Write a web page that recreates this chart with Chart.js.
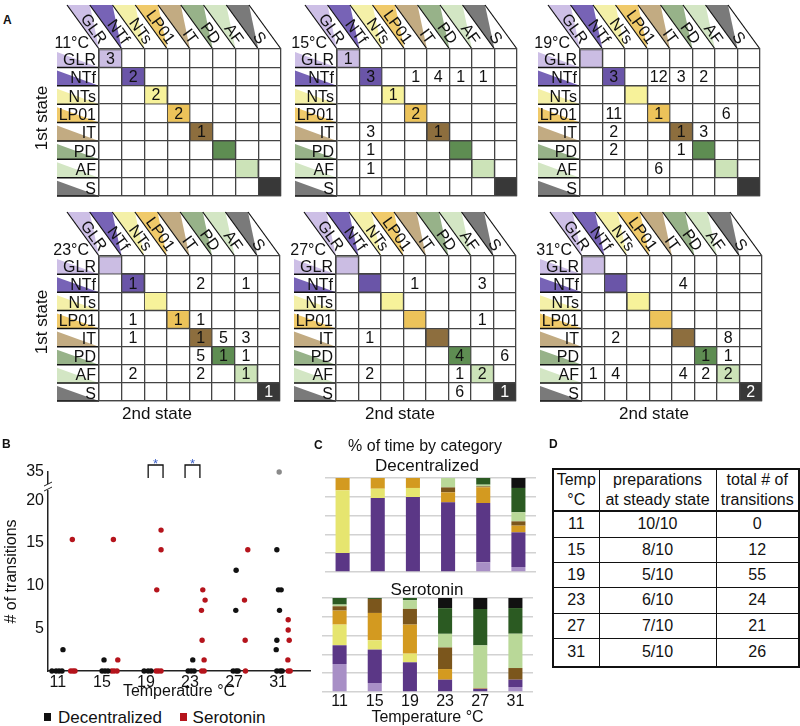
<!DOCTYPE html>
<html><head><meta charset="utf-8">
<script src="https://cdn.jsdelivr.net/npm/chart.js@4.4.1/dist/chart.umd.min.js"></script>
<style>
body{margin:0;width:800px;height:726px;overflow:hidden;background:#fff;font-family:"Liberation Sans",Arial,sans-serif;position:relative;color:#111}
canvas{position:absolute}
.t{position:absolute;white-space:nowrap;line-height:1;transform:translate(-50%,-50%)}
.pl{position:absolute;font-weight:bold;font-size:12px;line-height:1}
.sq{position:absolute;width:7px;height:8px}
table{position:absolute;border-collapse:collapse;font-size:16px;text-align:center;table-layout:fixed}
td{border:1.5px solid #111;padding:0;line-height:20px}
</style></head><body>
<script>
// ---------- DATA ----------
const states = ['GLR','NTf','NTs','LP01','IT','PD','AF','S'];
const temps = [11,15,19,23,27,31];
const tempLabels = ['11°C','15°C','19°C','23°C','27°C','31°C'];
// transition counts: [row (1st state), col (2nd state), count]
const cells11 = [[0,0,3],[1,1,2],[2,2,2],[3,3,2],[4,4,1]];
const cells15 = [[0,0,1],[1,1,3],[1,3,1],[1,4,4],[1,5,1],[1,6,1],[2,2,1],[3,3,2],[4,1,3],[4,4,1],[5,1,1],[6,1,1]];
const cells19 = [[1,1,3],[1,3,12],[1,4,3],[1,5,2],[3,1,11],[3,3,1],[3,6,6],[4,1,2],[4,4,1],[4,5,3],[5,1,2],[5,4,1],[6,3,6]];
const cells23 = [[1,1,1],[1,4,2],[1,6,1],[3,1,1],[3,3,1],[3,4,1],[4,1,1],[4,4,1],[4,5,5],[4,6,3],[5,4,5],[5,5,1],[5,6,1],[6,1,2],[6,4,2],[6,6,1],[7,7,1]];
const cells27 = [[1,3,1],[1,6,3],[3,6,1],[4,1,1],[5,5,4],[5,7,6],[6,1,2],[6,5,1],[6,6,2],[7,5,6],[7,7,1]];
const cells31 = [[1,4,4],[4,1,2],[4,6,8],[5,5,1],[5,6,1],[6,0,1],[6,1,4],[6,4,4],[6,5,2],[6,6,2],[7,7,2]];

// panel B: [temperature (jittered), # of transitions]
const decentralizedPts = [[10.46,0],[10.83,0],[11.1,0],[11.37,0],[11.46,2.5],
  [15.01,0],[15.28,0],[15.55,0],[15.19,1.3],
  [18.83,0],[19.19,0],[19.46,0],
  [22.83,0],[23.1,0],[23.37,0],[23.25,1.3],
  [26.92,0],[27.19,0],[27.37,0],[27.19,11.8],[27.16,7.1],
  [30.89,14.2],[31.04,9.5],[31.28,9.5],[31.13,7.1],[30.89,3.6],[30.83,2.5],[30.89,0],[31.19,0],[31.37,0]];
const serotoninPts = [[12.31,15.4],[12.16,0],[12.37,0],[12.55,0],
  [16.04,15.4],[16.44,1.3],[15.89,0],[16.1,0],[16.37,0],
  [20.37,16.5],[20.37,14.2],[19.98,9.5],[19.92,0],[20.13,0],[20.37,0],
  [24.16,9.5],[24.37,8.3],[24.04,7.1],[24.1,3.6],[24.28,1.3],[24.07,0],[24.28,0],
  [28.25,14.2],[27.95,8.3],[28.01,3.6],[28.04,0],
  [31.92,6.0],[31.92,4.8],[32.01,3.6],[31.89,1.3],[31.92,0],[32.1,0]];
const outlierPts = [[31.1,35]];
const yTickValues = [5,10,15,20,35];
const sigBrackets = [[19.2,20.55],[22.55,23.9]];

// panel C: % of time, stacked bottom->top GLR, NTf, NTs, LP01, IT, AF, PD, S
const decGLR  = [0,0,0,0,10.3,5.3];
const decNTf  = [20.2,78.7,79.8,74.1,63.1,36.9];
const decNTs  = [66.7,9.9,9.6,0,0,0];
const decLP01 = [13.1,11.4,10.6,10.6,16.7,7.1];
const decIT   = [0,0,0,5.3,1.0,4.6];
const decAF   = [0,0,0,10.0,1.8,9.6];
const decPD   = [0,0,0,0,7.1,25.9];
const decS    = [0,0,0,0,0,10.6];
const serGLR  = [29.8,9.6,0,0,0,5.3];
const serNTf  = [19.9,35.5,31.6,13.1,3.5,7.8];
const serNTs  = [22.0,9.9,9.2,0,0,0];
const serLP01 = [14.9,29.1,30.9,11.3,0.7,0];
const serIT   = [4.6,14.9,16.7,23.0,0,12.4];
const serAF   = [1.8,0,9.2,14.5,45.4,36.5];
const serPD   = [7.0,1.0,2.4,27.3,38.7,27.3];
const serS    = [0,0,0,10.8,11.7,10.7];
const stackNames = ['GLR','NTf','NTs','LP01','IT','AF','PD','S'];

// panel D table
const tableTemps = [11,15,19,23,27,31];
const tablePreps = ['10/10','8/10','5/10','6/10','7/10','5/10'];
const tableTransitions = [0,12,55,24,21,26];

// ---------- STYLE ----------
const FONT = '"Liberation Sans", Arial, sans-serif';
const cellColors  = ['#cbbde3','#6a55a8','#f7f29a','#ecc35a','#8d6e3e','#5e8d52','#cce3b8','#383838'];
const wedgeColors = ['#cdbfe6','#7763b6','#f4f0a8','#f0ca6a','#c2ab82','#97b289','#d3e6c4','#7a7a7a'];
const stackColors = ['#a88fc6','#5b3786','#e6e56f','#d39a20','#7b561c','#b9d898','#2b5a22','#111111'];

Chart.defaults.font.family = FONT;
Chart.defaults.color = '#111';
Chart.defaults.animation = false;
Chart.defaults.responsive = false;
Chart.defaults.events = [];
Chart.defaults.plugins.legend.display = false;
Chart.defaults.plugins.tooltip.enabled = false;

function makeCanvas(left, top, w, h) {
  const c = document.createElement('canvas');
  c.width = w; c.height = h;
  c.style.left = left + 'px'; c.style.top = top + 'px';
  c.style.width = w + 'px'; c.style.height = h + 'px';
  document.body.appendChild(c);
  return c;
}
function addText(txt, cx, cy, size, extra) {
  const d = document.createElement('div');
  d.className = 't'; d.textContent = txt;
  d.style.left = cx + 'px'; d.style.top = cy + 'px'; d.style.fontSize = size + 'px';
  if (extra) Object.assign(d.style, extra);
  document.body.appendChild(d);
  return d;
}
function addPanelLabel(txt, l, t) {
  const d = document.createElement('div');
  d.className = 'pl'; d.textContent = txt; d.style.left = l + 'px'; d.style.top = t + 'px';
  document.body.appendChild(d);
}

// ---------- PANEL A ----------
const HDX = 32, HDY = 44;
const LBL = '16px ' + FONT;
const matrixDecor = {
  id: 'matrixDecor',
  beforeDraw(chart, args, opts) {
    const {ctx, chartArea: a, scales: {x, y}} = chart;
    const cw = x.getPixelForValue(1) - x.getPixelForValue(0);
    ctx.save();
    // row labels
    for (let r = 0; r < states.length; r++) {
      const yt = y.getPixelForValue(r), yb = y.getPixelForValue(r + 1);
      const x0 = a.left - 42;
      ctx.fillStyle = wedgeColors[r];
      ctx.beginPath(); ctx.moveTo(x0, yt + 3); ctx.lineTo(x0, yb); ctx.lineTo(a.left, yb); ctx.closePath(); ctx.fill();
      ctx.strokeStyle = '#111'; ctx.lineWidth = 1.5;
      ctx.beginPath(); ctx.moveTo(x0, yb); ctx.lineTo(a.left, yb); ctx.stroke();
      ctx.fillStyle = '#111'; ctx.font = LBL; ctx.textAlign = 'right'; ctx.textBaseline = 'alphabetic';
      ctx.fillText(states[r], a.left - 3, yb - 2.5);
    }
    // column headers
    const len = Math.hypot(HDX, HDY), ux = HDX / len, uy = HDY / len, ang = Math.atan2(HDY, HDX);
    for (let c = 0; c < states.length; c++) {
      const xc = x.getPixelForValue(c) - cw / 2;
      ctx.fillStyle = wedgeColors[c];
      ctx.beginPath(); ctx.moveTo(xc - HDX, a.top - HDY); ctx.lineTo(xc + cw - HDX, a.top - HDY); ctx.lineTo(xc, a.top); ctx.closePath(); ctx.fill();
    }
    ctx.strokeStyle = '#111'; ctx.lineWidth = 1.2;
    for (let c = 0; c <= states.length; c++) {
      const xc = x.getPixelForValue(c) - cw / 2;
      ctx.beginPath(); ctx.moveTo(xc, a.top); ctx.lineTo(xc - HDX, a.top - HDY); ctx.stroke();
    }
    for (let c = 0; c < states.length; c++) {
      const xc = x.getPixelForValue(c) - cw / 2;
      const px = xc - ux * 3 + uy * 2.5, py = a.top - uy * 3 - ux * 2.5;
      ctx.save();
      ctx.translate(px, py); ctx.rotate(ang);
      ctx.fillStyle = '#111'; ctx.font = LBL; ctx.textAlign = 'right'; ctx.textBaseline = 'alphabetic';
      ctx.fillText(states[c], 0, 0);
      ctx.restore();
    }
    // temperature label
    ctx.fillStyle = '#111'; ctx.font = LBL; ctx.textAlign = 'right'; ctx.textBaseline = 'alphabetic';
    ctx.fillText(opts.temp, a.left - 10, a.top - 1);
    ctx.restore();
  },
  afterDatasetsDraw(chart, args, opts) {
    const {ctx, scales: {x, y}} = chart;
    ctx.save();
    ctx.font = LBL; ctx.textAlign = 'center'; ctx.textBaseline = 'middle';
    for (const [r, c, v] of opts.cells) {
      ctx.fillStyle = (r === 7 && c === 7) ? '#fff' : '#111';
      ctx.fillText(String(v), x.getPixelForValue(c), y.getPixelForValue(r + 0.5) + 1);
    }
    ctx.restore();
  }
};

const PADL = 62, PADT = 49, PADR = 6, PADB = 4;
function matrixChart(rect, temp, cells) {
  const [gl, gt, gr, gb] = rect;
  const cv = makeCanvas(gl - PADL, gt - PADT, gr - gl + PADL + PADR, gb - gt + PADT + PADB);
  const gridOpt = { color: '#444', lineWidth: 1.3, drawTicks: false };
  new Chart(cv, {
    type: 'bar',
    data: { labels: states, datasets: [{
      data: states.map((s, i) => [i, i + 1]),
      backgroundColor: cellColors, borderColor: '#444', borderWidth: 1, borderSkipped: false,
      barPercentage: 1, categoryPercentage: 1 }] },
    options: {
      layout: { padding: { left: PADL, top: PADT, right: PADR, bottom: PADB } },
      scales: {
        x: { grid: Object.assign({ offset: true }, gridOpt), border: { color: '#444', width: 1.3 }, ticks: { display: false }, afterFit: s => { s.height = 0; } },
        y: { min: 0, max: states.length, reverse: true, grid: gridOpt, border: { color: '#444', width: 1.3 }, ticks: { display: false, stepSize: 1 }, afterFit: s => { s.width = 0; } }
      },
      plugins: { matrixDecor: { temp, cells } }
    },
    plugins: [matrixDecor]
  });
}
const matrixRects = [[99,49,281,196],[337,49,517,196],[580,49,760,196],[99,256,280,401],[336,256,516,401],[582,256,762,401]];
const allCells = [cells11, cells15, cells19, cells23, cells27, cells31];
matrixRects.forEach((r, i) => matrixChart(r, tempLabels[i], allCells[i]));

addText('1st state', 41, 118, 17, { transform: 'translate(-50%,-50%) rotate(-90deg)' });
addText('1st state', 41, 322, 17, { transform: 'translate(-50%,-50%) rotate(-90deg)' });
addText('2nd state', 157, 413, 17);
addText('2nd state', 400, 413, 17);
addText('2nd state', 654, 413, 17);

// ---------- PANEL B ----------
const Y_BREAK = 20, Y_TOP_VAL = 35, Y_AXIS_MAX = 23.3;
const yMap = v => v <= Y_BREAK ? v : Y_BREAK + (v - Y_BREAK) * (Y_AXIS_MAX - Y_BREAK) / (Y_TOP_VAL - Y_BREAK);

const panelBDecor = {
  id: 'panelBDecor',
  afterDraw(chart) {
    const {ctx, chartArea: a, scales: {x, y}} = chart;
    ctx.save();
    // axis break
    const yb = y.getPixelForValue(yMap(27));
    ctx.fillStyle = '#fff';
    ctx.fillRect(a.left - 3, yb - 3, 6, 6);
    ctx.strokeStyle = '#222'; ctx.lineWidth = 1;
    ctx.beginPath(); ctx.moveTo(a.left - 4, yb - 1); ctx.lineTo(a.left + 4, yb - 5); ctx.stroke();
    ctx.beginPath(); ctx.moveTo(a.left - 4, yb + 4); ctx.lineTo(a.left + 4, yb); ctx.stroke();
    // significance brackets
    for (const [x1, x2] of sigBrackets) {
      const p1 = x.getPixelForValue(x1), p2 = x.getPixelForValue(x2);
      ctx.strokeStyle = '#111'; ctx.lineWidth = 1.3;
      ctx.beginPath(); ctx.moveTo(p1, a.top + 6); ctx.lineTo(p1, a.top - 7); ctx.lineTo(p2, a.top - 7); ctx.lineTo(p2, a.top + 6); ctx.stroke();
      ctx.fillStyle = '#3b5fc8'; ctx.font = '13px ' + FONT; ctx.textAlign = 'center'; ctx.textBaseline = 'alphabetic';
      ctx.fillText('*', (p1 + p2) / 2, a.top - 4);
    }
    ctx.restore();
  }
};

const cvB = makeCanvas(0, 440, 320, 262);
const ptStyle = { pointRadius: 2.7, borderWidth: 0, clip: false };
new Chart(cvB, {
  type: 'scatter',
  data: { datasets: [
    Object.assign({ label: 'Decentralized', data: decentralizedPts.map(([px, py]) => ({ x: px, y: yMap(py) })), backgroundColor: '#111' }, ptStyle),
    Object.assign({ label: 'Serotonin', data: serotoninPts.map(([px, py]) => ({ x: px, y: yMap(py) })), backgroundColor: '#b5141c' }, ptStyle),
    Object.assign({ label: 'outlier', data: outlierPts.map(([px, py]) => ({ x: px, y: yMap(py) })), backgroundColor: '#8a8a8a' }, ptStyle)
  ]},
  options: {
    layout: { padding: { top: 32, right: 10, left: 0, bottom: 0 } },
    scales: {
      x: { type: 'linear', min: 10.1, max: 33.9,
        afterBuildTicks: s => { s.ticks = temps.map(v => ({ value: v })); },
        ticks: { font: { size: 16 }, padding: 2, color: '#111', autoSkip: false, maxRotation: 0, callback: v => String(v) },
        grid: { display: false, drawTicks: false }, border: { color: '#222', width: 1.5 },
        title: { display: true, text: 'Temperature °C', font: { size: 16 }, color: '#111', padding: { top: 0, bottom: 1 } },
        afterFit: s => { s.height = 31; } },
      y: { type: 'linear', min: 0, max: Y_AXIS_MAX,
        afterBuildTicks: s => { s.ticks = yTickValues.map(v => ({ value: yMap(v) })); },
        ticks: { font: { size: 16 }, padding: 4, color: '#111', autoSkip: false, callback: (v, i) => String(yTickValues[i]) },
        grid: { display: false, drawTicks: false }, border: { color: '#222', width: 1.5 },
        title: { display: true, text: '# of transitions', font: { size: 16 }, color: '#111', padding: { top: 1.5, bottom: 0 } },
        afterFit: s => { s.width = 48; } }
    }
  },
  plugins: [panelBDecor]
});
// legend
(function(){
  const s1 = document.createElement('div'); s1.className = 'sq'; s1.style.left = '44px'; s1.style.top = '713px'; s1.style.background = '#111'; document.body.appendChild(s1);
  const s2 = document.createElement('div'); s2.className = 'sq'; s2.style.left = '180px'; s2.style.top = '713px'; s2.style.background = '#b5141c'; document.body.appendChild(s2);
  addText('Decentralized', 110, 717, 17);
  addText('Serotonin', 229, 717, 17);
})();

// ---------- PANEL C ----------
const decSeries = [decGLR, decNTf, decNTs, decLP01, decIT, decAF, decPD, decS];
const serSeries = [serGLR, serNTf, serNTs, serLP01, serIT, serAF, serPD, serS];
function stackChart(canvas, series, showX, xHeight) {
  new Chart(canvas, {
    type: 'bar',
    data: { labels: temps.map(String), datasets: series.map((d, i) => ({
      label: stackNames[i], data: d, backgroundColor: stackColors[i], borderWidth: 0,
      barPercentage: 0.4, categoryPercentage: 1 })) },
    options: {
      layout: { padding: { top: 4, left: 4, right: 4, bottom: 0 } },
      scales: {
        x: { stacked: true, grid: { display: false, drawTicks: false }, border: { display: false },
          ticks: { display: showX, font: { size: 16 }, padding: 0, color: '#111', maxRotation: 0 },
          title: { display: showX, text: 'Temperature °C', font: { size: 16 }, color: '#111', padding: { top: 0, bottom: 1 } },
          afterFit: s => { s.height = xHeight; } },
        y: { stacked: true, min: 0, max: 100, ticks: { display: false, stepSize: 20 },
          grid: { color: '#d2d2d2', lineWidth: 1.5, drawTicks: false }, border: { display: false },
          afterFit: s => { s.width = 0; } }
      }
    }
  });
}
stackChart(makeCanvas(321, 474, 219, 102), decSeries, false, 4);
stackChart(makeCanvas(318, 594, 219, 134), serSeries, true, 36);
addText('% of time by category', 425, 446, 16);
addText('Decentralized', 427, 465, 17);
addText('Serotonin', 427, 589, 17);

// ---------- PANEL D ----------
(function(){
  const tbl = document.createElement('table');
  tbl.style.left = '552px'; tbl.style.top = '468px'; tbl.style.width = '246px';
  tbl.style.border = '2px solid #111';
  const cg = document.createElement('colgroup');
  [46, 117, 83].forEach(w => { const c = document.createElement('col'); c.style.width = w + 'px'; cg.appendChild(c); });
  tbl.appendChild(cg);
  const hr = tbl.insertRow(); hr.style.height = '38px';
  [['Temp','°C'],['preparations','at steady state'],['total # of','transitions']].forEach(h => {
    const td = hr.insertCell(); td.innerHTML = h[0] + '<br>' + h[1]; td.style.borderBottom = '2px solid #111';
  });
  const heights = [26,25,25,26,25,29];
  tableTemps.forEach((t, i) => {
    const r = tbl.insertRow(); r.style.height = heights[i] + 'px';
    [String(t), tablePreps[i], String(tableTransitions[i])].forEach(v => { const td = r.insertCell(); td.textContent = v; });
  });
  document.body.appendChild(tbl);
})();

addPanelLabel('A', 3, 14);
addPanelLabel('B', 2, 438);
addPanelLabel('C', 314, 439);
addPanelLabel('D', 549, 438);
</script>
</body></html>
